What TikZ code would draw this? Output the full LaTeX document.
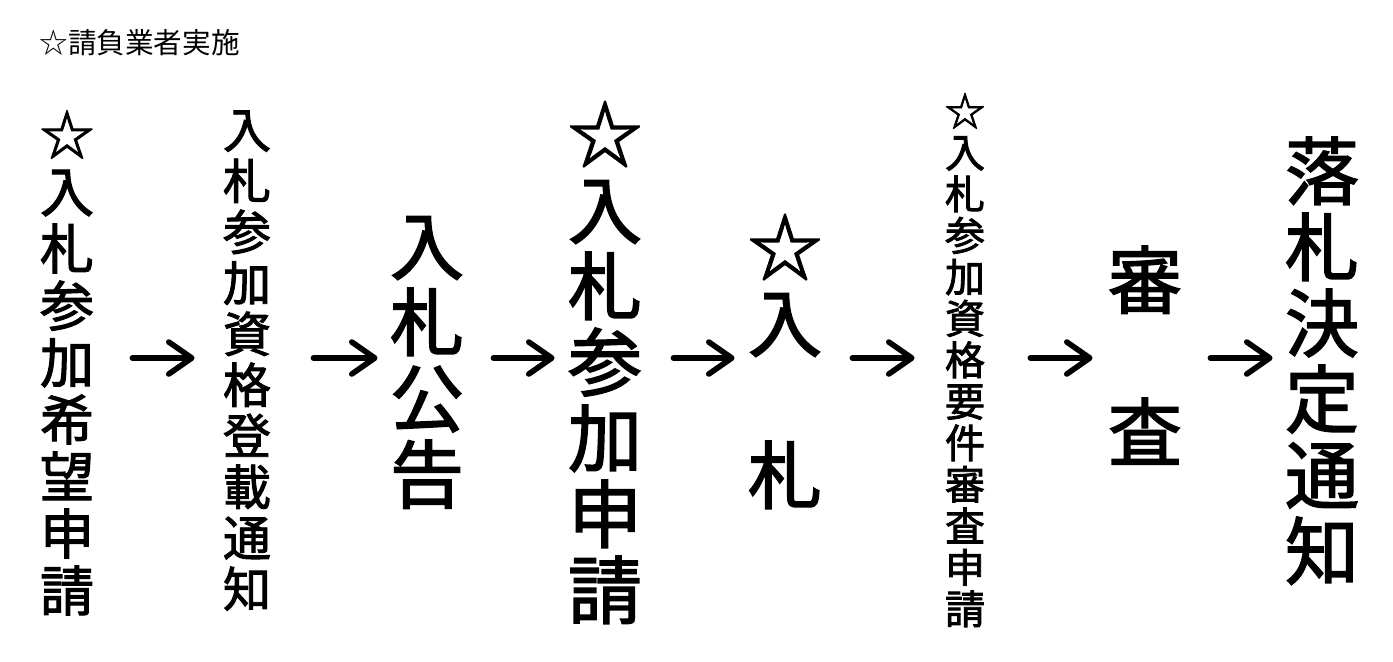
\documentclass[tikz,border=0pt]{standalone}
\usepackage{fontspec}
\newfontfamily\jpfont{Noto Sans CJK JP}
\newfontfamily\jpthick{Noto Sans CJK JP}[FakeBold=2]
\usetikzlibrary{arrows.meta}
\tikzset{
    VL/.style ={text width=37pt, align=center, inner sep=0pt, anchor=base, font=\jpthick\fontsize{37pt}{38pt}\selectfont},
    VM/.style ={text width=27pt, align=center, inner sep=0pt, anchor=base, font=\jpthick\fontsize{27pt}{28.5pt}\selectfont},
    VS/.style ={text width=24pt, align=center, inner sep=0pt, anchor=base, font=\jpthick\fontsize{24pt}{25.5pt}\selectfont},
    VX/.style ={text width=20pt, align=center, inner sep=0pt, anchor=base, font=\jpthick\fontsize{20pt}{20.75pt}\selectfont},
    TT/.style ={inner sep=0pt, anchor=base west, font=\jpfont\fontsize{14.3pt}{16pt}\selectfont},
    AR/.style ={line width=2.8pt, line cap=round, -{Straight Barb[length=11.5pt,width=16pt,round]}}}
\begin{document}
\begin{tikzpicture}[x=0.5pt, y=-0.5pt]
        \useasboundingbox (0,0) rectangle (1393,661);
        \node[TT] (t) at(39,53){☆請負業者実施};
        \node[VM] (1) at(67,155){☆\\入\\札\\参\\加\\希\\望\\申\\請};
        \node[VS] (2) at(247,148){入\\札\\参\\加\\資\\格\\登\\載\\通\\知};
        \node[VL] (3) at(427,274){入\\札\\公\\告};
        \node[VL] (4) at(605,162){☆\\入\\札\\参\\加\\申\\請};
        \node[VL] (5) at(785,275){☆\\入\\\mbox{}\\札};
        \node[VX] (6) at(965,126){☆\\入\\札\\参\\加\\資\\格\\要\\件\\審\\査\\申\\請};
        \node[VL] (7) at(1145,308){審\\\mbox{}\\査};
        \node[VL] (8) at(1322,199){落\\札\\決\\定\\通\\知};
        \coordinate (m) at(0,358);
        \draw[AR, shorten <=19pt, shorten >=14pt] (1.east |- m) -- (2.west |- m);
        \draw[AR, shorten <=21pt, shorten >=6pt] (2.east |- m) -- (3.west |- m);
        \draw[AR, shorten <=14.5pt, shorten >=6.5pt] (3.east |- m) -- (4.west |- m);
        \draw[AR, shorten <=15.5pt, shorten >=6.5pt] (4.east |- m) -- (5.west |- m);
        \draw[AR, shorten <=15pt, shorten >=15pt] (5.east |- m) -- (6.west |- m);
        \draw[AR, shorten <=22.5pt, shorten >=7.5pt] (6.east |- m) -- (7.west |- m);
        \draw[AR, shorten <=14pt, shorten >=6pt] (7.east |- m) -- (8.west |- m);
    \end{tikzpicture}
\end{document}
